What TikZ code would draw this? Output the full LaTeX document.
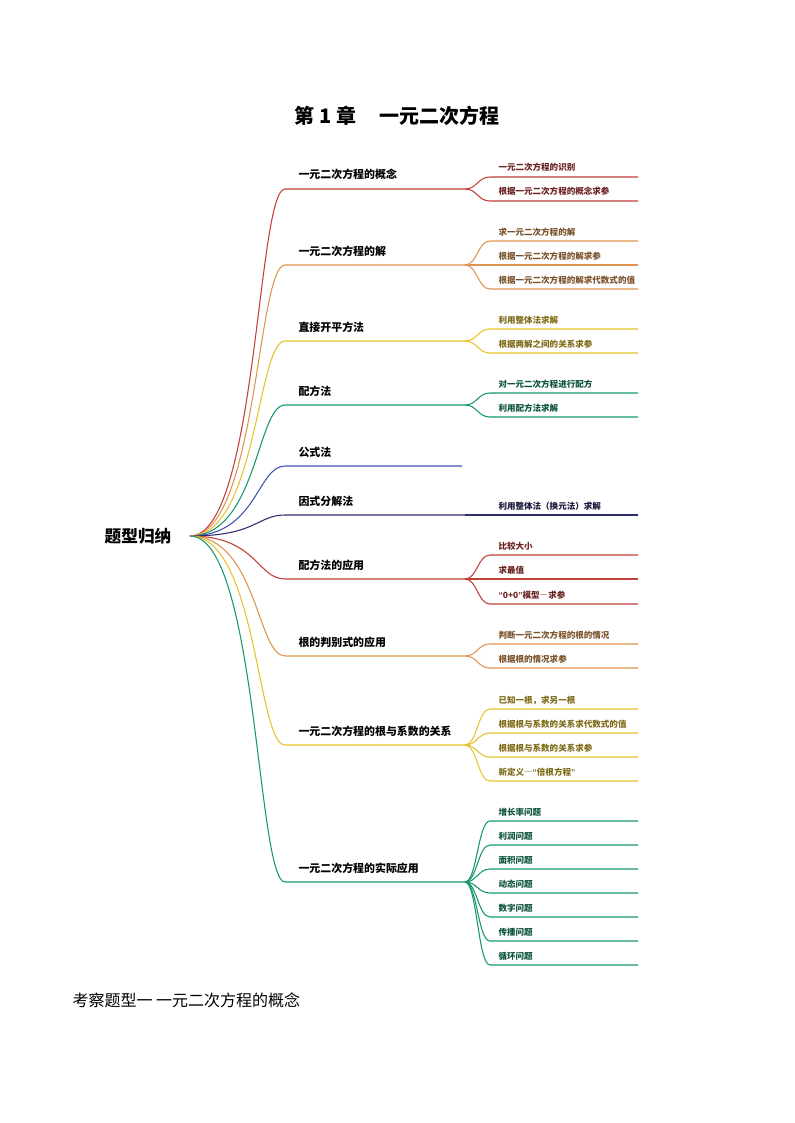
\documentclass[tikz,border=0pt]{standalone}
\usepackage{fontspec}
\setmainfont{Noto Sans CJK SC}
\newfontfamily\latinfont{Liberation Sans}
\usepackage{tikz}
\usetikzlibrary{positioning,calc}

\definecolor{bred}{HTML}{C0403A}
\definecolor{borange}{HTML}{DE9550}
\definecolor{byellow}{HTML}{E6C22C}
\definecolor{bgreen}{HTML}{16976C}
\definecolor{bblue}{HTML}{3F51B5}
\definecolor{bnavy}{HTML}{2B2D6E}

% narrow quotes
\newcommand{\qo}{{\latinfont\bfseries “}}
\newcommand{\qc}{{\latinfont\bfseries ”}}

\begin{document}
\begin{tikzpicture}[x=0.75pt, y=-0.75pt, line width=0.8pt,
    topic/.style={anchor=base west, inner sep=0pt, font=\fontsize{8.2}{10}\selectfont\bfseries},
    leaf/.style={anchor=base west, inner sep=0pt, font=\fontsize{6.4}{8}\selectfont\bfseries}]
\useasboundingbox (0,0) rectangle (794,1123);

% Title
\node[inner sep=0pt, font=\fontsize{15}{18}\selectfont\bfseries] (title) at (397,116) {第 1 章\hspace{1.15em}一元二次方程};

% Root
\node[inner sep=0pt, font=\fontsize{12.5}{15}\selectfont\bfseries] (root) at (138,536) {题型归纳};
\coordinate (hub) at (190,536);

% Main branches
\foreach \i/\yy/\ex/\col/\txt in {1/189/465/bred/一元二次方程的概念, 2/265/465/borange/一元二次方程的解,
    3/341/465/byellow/直接开平方法, 4/405/465/bgreen/配方法, 5/466/462/bblue/公式法,
    6/515/465/bnavy/因式分解法, 7/579/465/bred/配方法的应用, 8/656/465/borange/根的判别式的应用,
    9/745/465/byellow/一元二次方程的根与系数的关系, 10/882/465/bgreen/一元二次方程的实际应用} {
  \coordinate (b\i) at (285,\yy);
  \coordinate (e\i) at (\ex,\yy);
  \node[topic] (m\i) at (298,\yy-10) {\txt};
  \draw[\col] (hub) .. controls ($(hub)+(67,0)$) and ($(b\i)+(-28,0)$) .. (b\i) -- (e\i);
}

% Sub branches
\foreach \p/\k/\yy/\col/\txt in {1/1/177/bred/一元二次方程的识别, 1/2/201/bred/根据一元二次方程的概念求参,
    2/1/241/borange/求一元二次方程的解, 2/2/265/borange/根据一元二次方程的解求参,
    2/3/289/borange/根据一元二次方程的解求代数式的值,
    3/1/329/byellow/利用整体法求解, 3/2/353/byellow/根据两解之间的关系求参,
    4/1/393/bgreen/对一元二次方程进行配方, 4/2/417/bgreen/利用配方法求解,
    6/1/515/bnavy/利用整体法（换元法）求解,
    7/1/555/bred/比较大小, 7/2/579/bred/求最值, 7/3/604/bred/\qo 0+0\qc 模型―求参,
    8/1/644/borange/判断一元二次方程的根的情况, 8/2/668/borange/根据根的情况求参,
    9/1/709/byellow/已知一根，求另一根, 9/2/733/byellow/根据根与系数的关系求代数式的值,
    9/3/757/byellow/根据根与系数的关系求参, 9/4/781/byellow/新定义―\qo 倍根方程\qc,
    10/1/821/bgreen/增长率问题, 10/2/845/bgreen/利润问题, 10/3/869/bgreen/面积问题,
    10/4/893/bgreen/动态问题, 10/5/917/bgreen/数字问题, 10/6/941/bgreen/传播问题,
    10/7/965/bgreen/循环问题} {
  \coordinate (s\p-\k) at (490,\yy);
  \coordinate (t\p-\k) at (638,\yy);
  \node[leaf, text=\col!55!black] (l\p-\k) at (498,\yy-6) {\txt};
  \draw[\col] (e\p) .. controls ($(e\p)+(12,0)$) and ($(s\p-\k)+(-12,0)$) .. (s\p-\k) -- (t\p-\k);
}

% Section heading
\node[anchor=west, inner sep=0pt, font=\fontsize{12}{14}\selectfont] (sect) at (72,1000) {考察题型一\ 一元二次方程的概念};
\end{tikzpicture}
\end{document}
